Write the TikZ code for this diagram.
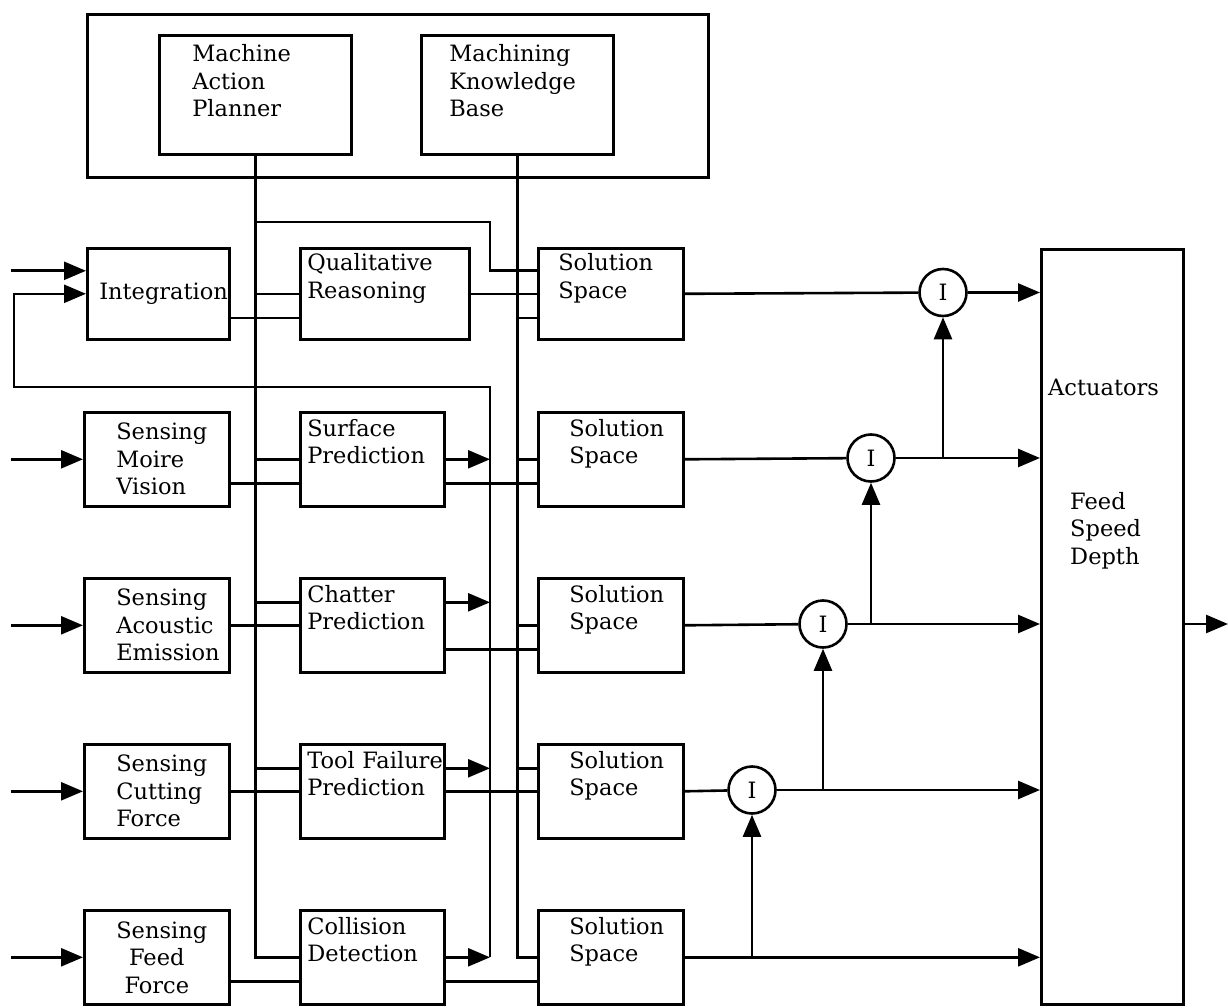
\documentclass[tikz,border=0pt]{standalone}
\usepackage{fontspec}
\setmainfont{DejaVu Serif}
\usetikzlibrary{arrows.meta}
\tikzset{module/.style = {draw, line width=2.6pt, anchor=north west, align=left, inner ysep=0pt, font=\fontsize{22.5}{27.5}\selectfont}}
\tikzset{sense/.style = {module, text width=81pt, inner xsep=32pt, minimum height=94pt}}
\tikzset{pred/.style = {module, text width=130pt, inner xsep=7pt, minimum height=94pt}}
\tikzset{solspace/.style = {module, text width=83pt, inner xsep=31pt, minimum height=94pt}}
\tikzset{junction/.style = {shape=circle, draw, line width=2.6pt, minimum size=47pt, inner sep=0pt, font=\fontsize{22.5}{27.5}\selectfont}}
\tikzset{wire/.style = {line width=2.6pt}}
\tikzset{sig/.style = {wire, -{Triangle[length=22pt,width=18pt]}}}

\begin{document}
\begin{tikzpicture}[x=1pt,y=-1pt]
            \useasboundingbox (0,0) rectangle (1228,1008);

            \node[module, minimum width=621pt, minimum height=163pt] (ctrl) at (86,13) {};
            \node[module, text width=126pt, inner xsep=33pt, minimum height=119pt] (plan) at (158,34) {Machine\\Action\\Planner\\[-8pt]\strut};
            \node[module, text width=136pt, inner xsep=28pt, minimum height=119pt] (kb) at (420,34) {Machining\\Knowledge\\Base\\[-8pt]\strut};

            \node[module, text width=118pt, inner xsep=12pt, minimum height=91pt] (integ) at (86,247) {Integration};
            \node[module, text width=155pt, inner xsep=7pt, minimum height=91pt] (qual) at (299,247) {Qualitative\\Reasoning\\\strut};
            \node[module, text width=105pt, inner xsep=20pt, minimum height=91pt] (sol1) at (537,247) {Solution\\Space\\\strut};

            \node[sense] (moire) at (83,411) {Sensing\\Moire\\Vision};
            \node[pred] (surf) at (299,411) {Surface\\Prediction\\\strut};
            \node[solspace] (sol2) at (537,411) {Solution\\Space\\\strut};

            \node[sense] (acou) at (83,577) {Sensing\\Acoustic\\Emission};
            \node[pred] (chat) at (299,577) {Chatter\\Prediction\\\strut};
            \node[solspace] (sol3) at (537,577) {Solution\\Space\\\strut};

            \node[sense] (cut) at (83,743) {Sensing\\Cutting\\Force};
            \node[pred] (tool) at (299,743) {\mbox{Tool Failure}\\Prediction\\\strut};
            \node[solspace] (sol4) at (537,743) {Solution\\Space\\\strut};

            \node[sense, align=center] (feed) at (83,909) {Sensing\\Feed\\Force};
            \node[pred] (coll) at (299,909) {Collision\\Detection\\\strut};
            \node[solspace] (sol5) at (537,909) {Solution\\Space\\\strut};

            \node[junction] (c1) at (943,292.5) {I};
            \node[junction] (c2) at (871,458) {I};
            \node[junction] (c3) at (823,624) {I};
            \node[junction] (c4) at (752,790) {I};

            \node[module, minimum width=142pt, minimum height=755pt] (act) at (1040,248) {};
            \node[anchor=base west, inner sep=0pt, font=\fontsize{22.5}{27.5}\selectfont] (actname) at (1048,395) {Actuators};
            \node[anchor=north west, inner sep=0pt, align=left, font=\fontsize{22.5}{27.5}\selectfont] (actvars) at (1070,492) {Feed\\Speed\\Depth};

            \coordinate (src) at (11,0);
            \coordinate (bus) at (490,387);
            \coordinate (ret) at (14,387);
            \coordinate (loop) at (490,222);
            \coordinate (out) at (1228,0);
            \coordinate (hi1) at ([yshift=23pt]integ.west);
            \coordinate (lo1) at ([yshift=-24pt]integ.west);
            \coordinate (lo2) at ([yshift=-24pt]surf.west);
            \coordinate (hi3) at ([yshift=23pt]chat.west);
            \coordinate (lo3) at ([yshift=-24pt]chat.west);
            \coordinate (hi4) at ([yshift=23pt]tool.west);
            \coordinate (lo5) at ([yshift=-24pt]coll.west);

            \draw[sig] (src |- hi1) -- (hi1);
            \draw[sig] (src |- moire.west) -- (moire.west);
            \draw[sig] (src |- acou.west) -- (acou.west);
            \draw[sig] (src |- cut.west) -- (cut.west);
            \draw[sig] (src |- feed.west) -- (feed.west);

            % planner bus
            \draw[wire] (plan.south) |- (coll.west);
            \draw[wire] (plan.south |- qual.west) -- (qual.west);
            \draw[wire] (plan.south |- surf.west) -- (surf.west);
            \draw[wire] (plan.south |- hi3) -- (hi3);
            \draw[wire] (plan.south |- hi4) -- (hi4);
            \draw[wire] (plan.south |- loop) -- (loop) |- (sol1.west |- hi1);

            % knowledge bus
            \draw[wire] (kb.south) |- (sol5.west);
            \draw[wire] (kb.south |- lo1) -- (sol1.west |- lo1);
            \draw[wire] (kb.south |- sol2.west) -- (sol2.west);
            \draw[wire] (kb.south |- sol3.west) -- (sol3.west);
            \draw[wire] (kb.south |- hi4) -- (sol4.west |- hi4);

            \draw[wire] (integ.east |- lo1) -- (qual.west |- lo1);
            \draw[wire] (moire.east |- lo2) -- (lo2);
            \draw[wire] (acou.east) -- (chat.west);
            \draw[wire] (cut.east) -- (tool.west);
            \draw[wire] (feed.east |- lo5) -- (lo5);

            \draw[wire] (qual.east) -- (sol1.west);
            \draw[wire] (surf.east |- lo2) -- (sol2.west |- lo2);
            \draw[wire] (chat.east |- lo3) -- (sol3.west |- lo3);
            \draw[wire] (tool.east) -- (sol4.west);
            \draw[wire] (coll.east |- lo5) -- (sol5.west |- lo5);

            % feedback
            \draw[sig] (surf.east) -- (surf.east -| bus);
            \draw[sig] (chat.east |- hi3) -- (bus |- hi3);
            \draw[sig] (tool.east |- hi4) -- (bus |- hi4);
            \draw[sig] (coll.east) -- (coll.east -| bus);
            \draw[sig] (coll.east -| bus) -- (bus) -- (ret) |- (integ.west);

            \draw[wire] (sol1.east) -- (c1);
            \draw[sig] (c1) -- (c1 -| act.west);
            \draw[wire] (sol2.east) -- (c2);
            \draw[sig] (c2) -- (c2 -| act.west);
            \draw[sig] (c2 -| c1) -- (c1);
            \draw[wire] (sol3.east) -- (c3);
            \draw[sig] (c3) -- (c3 -| act.west);
            \draw[sig] (c3 -| c2) -- (c2);
            \draw[wire] (sol4.east) -- (c4);
            \draw[sig] (c4) -- (c4 -| act.west);
            \draw[sig] (c4 -| c3) -- (c3);
            \draw[sig] (sol5.east) -- (sol5.east -| act.west);
            \draw[sig] (sol5.east -| c4) -- (c4);
            \draw[sig] (act.east |- c3) -- (out |- c3);
\end{tikzpicture}
\end{document}
